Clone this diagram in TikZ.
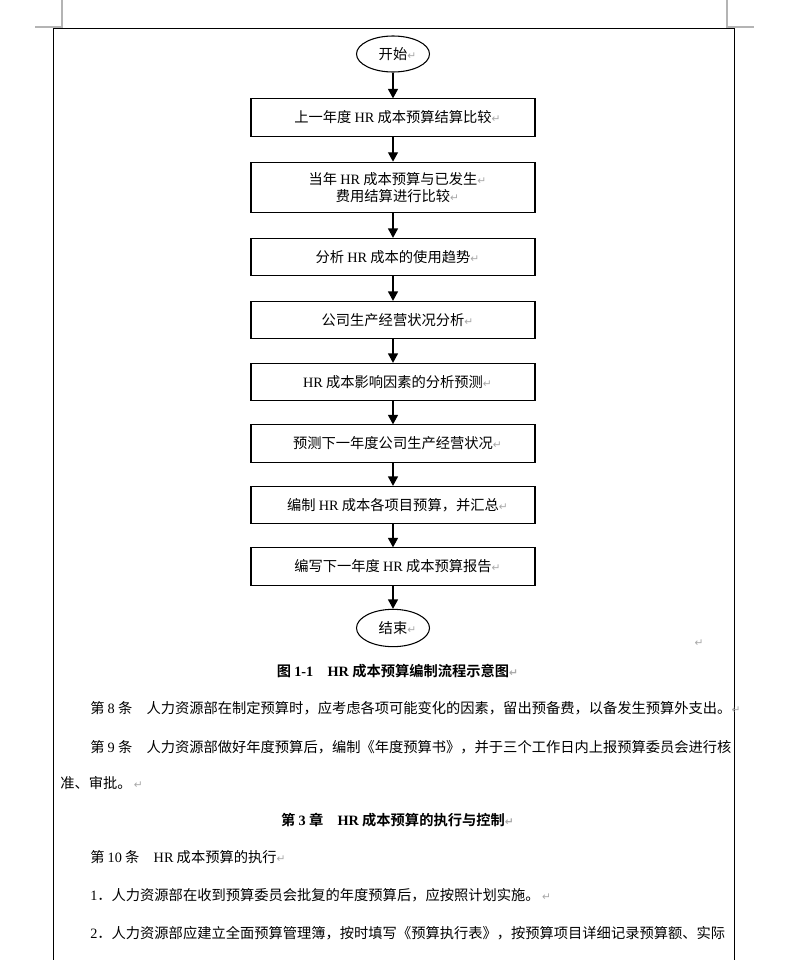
\documentclass[tikz,border=0pt]{standalone}
\usepackage{fontspec}
\usetikzlibrary{arrows.meta,shapes.geometric}
\setmainfont{Noto Sans CJK SC}[BoldFont={Noto Sans CJK SC Bold}]
\newfontfamily\latfont{Liberation Serif}
\newfontfamily\markfont{DejaVu Sans}
\definecolor{retgray}{HTML}{A8A8A8}
\definecolor{cropgray}{HTML}{B4B4B4}
\newcommand\lat[1]{{\latfont #1}}
\newcommand\ret{{\markfont\fontsize{8}{8}\selectfont\color{retgray}↵}}
\tikzset{box/.style={draw,line width=0.8pt,minimum width=213pt,minimum height=28pt,align=center,inner sep=2pt,font=\fontsize{10.7}{13}\selectfont},term/.style={ellipse,draw,line width=0.8pt,minimum width=54.75pt,minimum height=27pt,inner sep=0pt,font=\fontsize{10.7}{13}\selectfont},arrow/.style={-{Triangle[length=7pt,width=7.5pt]},line width=0.8pt},para/.style={anchor=west,inner sep=0pt,font=\fontsize{10.7}{13}\selectfont},head/.style={inner sep=0pt,font=\bfseries\fontsize{10.7}{13}\selectfont},crop/.style={draw=cropgray,line width=0.8pt},frame/.style={draw=black,line width=0.9pt}}

\begin{document}
\begin{tikzpicture}[x=0.75pt,y=-0.75pt]
\useasboundingbox (0,0) rectangle (790,960);
\draw[crop] (35,27)--(62,27)--(62,0);
\draw[crop] (727,0)--(727,27)--(754,27);
\draw[frame] (53.5,960)--(53.5,28.5)--(734.5,28.5)--(734.5,960);
\node[term] (start) at (393,54) {开始\rlap{\ret}};
\node[box] (prev) at (393,117.5) {上一年度 \lat{HR} 成本预算结算比较\rlap{\ret}};
\node[box,minimum height=38pt] (curr) at (393,187.5) {当年 \lat{HR} 成本预算与已发生\rlap{\ret}\\费用结算进行比较\rlap{\ret}};
\node[box] (trend) at (393,257) {分析 \lat{HR} 成本的使用趋势\rlap{\ret}};
\node[box] (ops) at (393,320) {公司生产经营状况分析\rlap{\ret}};
\node[box] (factor) at (393,382) {\lat{HR} 成本影响因素的分析预测\rlap{\ret}};
\node[box] (fcst) at (393,443.5) {预测下一年度公司生产经营状况\rlap{\ret}};
\node[box] (items) at (393,505) {编制 \lat{HR} 成本各项目预算，并汇总\rlap{\ret}};
\node[box] (report) at (393,566.5) {编写下一年度 \lat{HR} 成本预算报告\rlap{\ret}};
\node[term,minimum height=28pt] (finish) at (393,628) {结束\rlap{\ret}};
\draw[arrow](start)--(prev);\draw[arrow](prev)--(curr);\draw[arrow](curr)--(trend);
\draw[arrow](trend)--(ops);\draw[arrow](ops)--(factor);\draw[arrow](factor)--(fcst);
\draw[arrow](fcst)--(items);\draw[arrow](items)--(report);\draw[arrow](report)--(finish);
\node[inner sep=0pt] (blank) at (699,643) {\ret};
\node[head] (cap) at (393,671) {图 \lat{1-1}\hspace{1em}\lat{HR} 成本预算编制流程示意图\rlap{\ret}};
\node[para] (art8) at (90,708) {第 \lat{8} 条\hspace{1em}人力资源部在制定预算时，应考虑各项可能变化的因素，留出预备费，以备发生预算外支出。\ret};
\node[para] (art9a) at (90,747) {第 \lat{9} 条\hspace{1em}人力资源部做好年度预算后，编制《年度预算书》，并于三个工作日内上报预算委员会进行核};
\node[para] (art9b) at (60,783) {准、审批。\,\ret};
\node[head] (chap) at (393,820) {第 \lat{3} 章\hspace{1em}\lat{HR} 成本预算的执行与控制\rlap{\ret}};
\node[para] (art10) at (90,857) {第 \lat{10} 条\hspace{1em}\lat{HR} 成本预算的执行\ret};
\node[para] (item1) at (90,895) {\lat{1}．人力资源部在收到预算委员会批复的年度预算后，应按照计划实施。\,\ret};
\node[para] (item2) at (90,933) {\lat{2}．人力资源部应建立全面预算管理簿，按时填写《预算执行表》，按预算项目详细记录预算额、实际};
\end{tikzpicture}
\end{document}
